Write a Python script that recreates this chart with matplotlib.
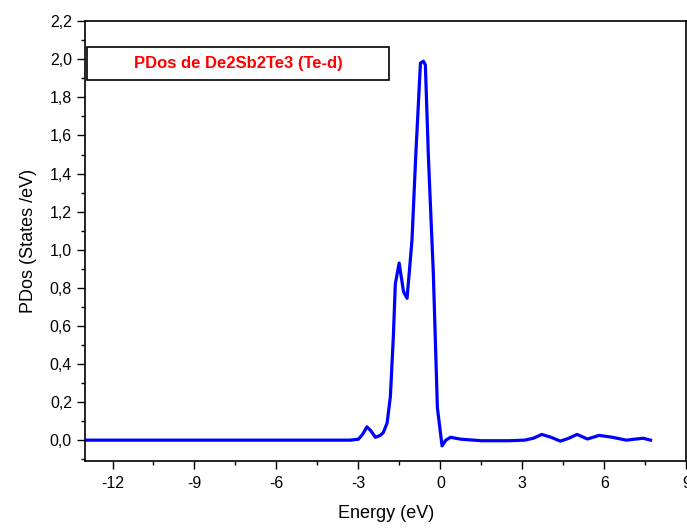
import matplotlib
matplotlib.use("Agg")
import matplotlib.pyplot as plt
from matplotlib.patches import Rectangle
from matplotlib.ticker import MultipleLocator, FuncFormatter

# данные
energy = [-13.0, -3.3, -3.0, -2.85, -2.69, -2.55, -2.38, -2.2, -2.09, -1.95,
          -1.83, -1.72, -1.65, -1.51, -1.35, -1.22, -1.04, -0.9, -0.73, -0.62,
          -0.55, -0.44, -0.26, -0.11, 0.06, 0.2, 0.37, 0.75, 1.5, 2.5,
          3.08, 3.4, 3.71, 4.05, 4.39, 4.7, 5.0, 5.38, 5.81, 6.3,
          6.8, 7.1, 7.42, 7.69]
pdos = [0.0, 0.0, 0.005, 0.03, 0.07, 0.05, 0.015, 0.025, 0.04, 0.09,
        0.23, 0.55, 0.82, 0.93, 0.78, 0.745, 1.05, 1.5, 1.98, 1.99,
        1.97, 1.49, 0.88, 0.17, -0.03, 0.0, 0.015, 0.005, -0.003, -0.003,
        0.0, 0.01, 0.03, 0.015, -0.005, 0.01, 0.03, 0.006, 0.025, 0.015,
        0.0, 0.005, 0.01, 0.0]
legend_text = "PDos de De2Sb2Te3 (Te-d)"

plt.rcParams['font.family'] = ['Liberation Sans', 'DejaVu Sans']

fig = plt.figure(figsize=(6.87, 5.30), dpi=100)
ax = fig.add_axes([0.124, 0.130, 0.875, 0.830])

ax.plot(energy, pdos, color='#0000ff', linewidth=2.3)

ax.set_xlim(-13, 9)
ax.set_ylim(-0.11, 2.2)
ax.xaxis.set_major_locator(MultipleLocator(3))
ax.xaxis.set_minor_locator(MultipleLocator(1.5))
ax.yaxis.set_major_locator(MultipleLocator(0.2))
ax.yaxis.set_minor_locator(MultipleLocator(0.1))
ax.yaxis.set_major_formatter(FuncFormatter(lambda v, p: f"{v:.1f}".replace('.', ',')))
ax.xaxis.set_major_formatter(FuncFormatter(lambda v, p: f"{v:.0f}"))

ax.tick_params(which='major', direction='out', length=6, width=1, labelsize=11.5)
ax.tick_params(which='minor', direction='out', length=3, width=1)
ax.tick_params(axis='x', pad=5)
for s in ax.spines.values():
    s.set_linewidth(1.2)

ax.set_xlabel("Energy (eV)", fontsize=13, labelpad=10)
ax.set_ylabel("PDos (States /eV)", fontsize=13, labelpad=9)

# рамка с подписью
ax.add_patch(Rectangle((0.003, 0.866), 0.503, 0.075, transform=ax.transAxes,
                       facecolor='white', edgecolor='black', linewidth=1.2, zorder=3))
ax.text(0.2545, 0.9035, legend_text, transform=ax.transAxes, ha='center', va='center',
        color='red', fontsize=12, fontweight='bold', zorder=4)

fig.savefig("out.png", dpi=100)
